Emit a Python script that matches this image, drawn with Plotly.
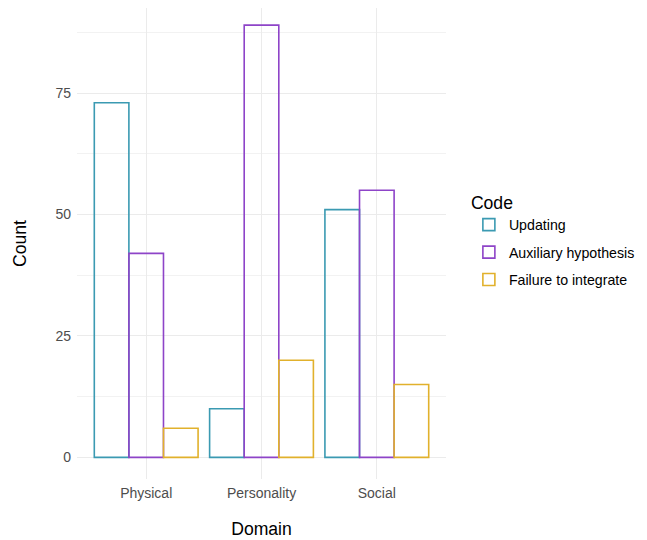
import plotly.graph_objects as go

domains = ["Physical", "Personality", "Social"]
codes = ["Updating", "Auxiliary hypothesis", "Failure to integrate"]
updating = [73, 10, 51]
auxiliary = [42, 89, 55]
failure = [6, 20, 15]
colors = ["#3B9AB2", "#8E44C8", "#E1B12C"]
y_ticks = [0, 25, 50, 75]

series = [updating, auxiliary, failure]

fig = go.Figure()
for name, vals, col in zip(codes, series, colors):
    fig.add_trace(go.Bar(
        x=domains, y=vals, name=name, legendgroup=name,
        marker=dict(color="rgba(255,255,255,0)", line=dict(color=col, width=1.6)),
    ))

font_family = "Liberation Sans, Arial, sans-serif"
fig.update_layout(
    width=647, height=540,
    margin=dict(l=69, r=209, t=0, b=69),
    paper_bgcolor="white", plot_bgcolor="white",
    barmode="group", bargap=0.1, bargroupgap=0,
    font=dict(family=font_family, color="black"),
    showlegend=True,
    legend=dict(
        title=dict(text="Code", font=dict(size=17.6, color="black")),
        font=dict(size=14.2, color="black"),
        x=1.062, xanchor="left", y=0.622, yanchor="top",
        traceorder="grouped", tracegroupgap=6,
        bgcolor="rgba(0,0,0,0)",
    ),
    xaxis=dict(
        range=[-0.6, 2.6], showgrid=True, gridcolor="#EBEBEB", gridwidth=1.2,
        ticks="", tickfont=dict(size=14, color="#4D4D4D"), ticklabelstandoff=4,
        title=dict(text="Domain", font=dict(size=17.6, color="black"), standoff=22),
        zeroline=False, showline=False, automargin=False,
    ),
    yaxis=dict(
        range=[-4.45, 92.52], tickvals=y_ticks, showgrid=True,
        gridcolor="#EBEBEB", gridwidth=1.2,
        minor=dict(dtick=12.5, tick0=0, showgrid=True, gridcolor="#F2F2F2", gridwidth=0.6),
        ticks="", tickfont=dict(size=14, color="#4D4D4D"), ticklabelstandoff=5,
        title=dict(text="Count", font=dict(size=17.6, color="black"), standoff=24),
        zeroline=False, showline=False, automargin=False,
    ),
)
fig.write_html("out.html")
